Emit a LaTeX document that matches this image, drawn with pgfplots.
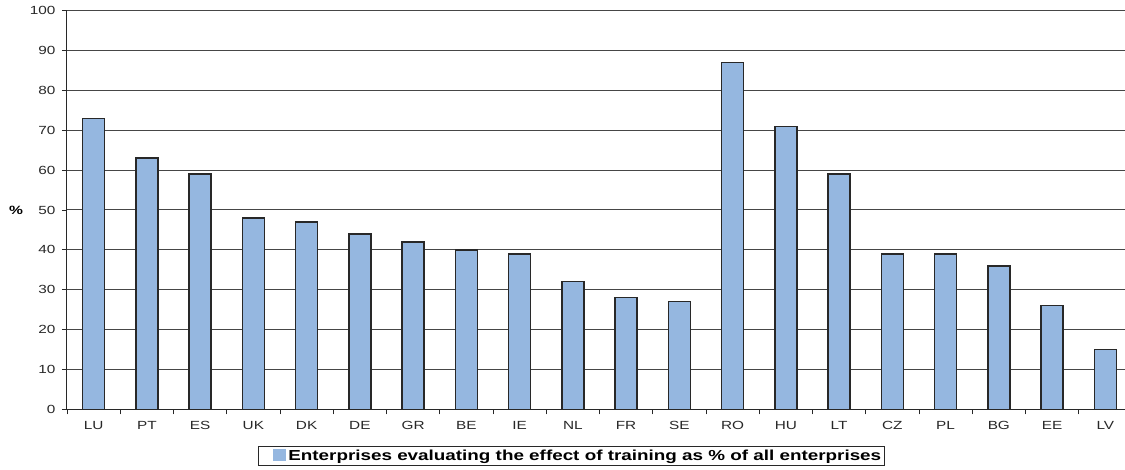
\documentclass[border=0pt]{standalone}
\usepackage{pgfplots}
\pgfplotsset{compat=1.18}
\usepackage{fontspec}
\setmainfont[FakeStretch=1.3]{Liberation Sans}
\definecolor{barblue}{RGB}{149,183,224}
\definecolor{edge}{RGB}{40,40,40}
\definecolor{gridc}{RGB}{70,70,70}
\begin{document}
\begin{tikzpicture}
\begin{axis}[name=ax,
  scale only axis, width=1065pt, height=399pt,
  xmin=-0.5, xmax=19.5, ymin=0, ymax=100,
  axis x line*=bottom, axis y line*=left,
  axis line style={draw=edge, line width=1pt, -},
  ytick={0,10,...,100},
  ymajorgrids, grid style={draw=gridc, line width=1pt},
  xtick={-0.5,0.5,...,18.5},
  xticklabels={LU,PT,ES,UK,DK,DE,GR,BE,IE,NL,FR,SE,RO,HU,LT,CZ,PL,BG,EE,LV},
  x tick label style={xshift=26.6pt, yshift=-3pt},
  y tick label style={xshift=-3pt},
  tick align=outside, major tick length=5pt,
  tick style={draw=edge, line width=0.8pt},
  ticklabel style={font=\fontsize{11.8}{14}\selectfont, text=edge},
  /pgf/number format/assume math mode=true,
  ylabel={\%},
  ylabel style={rotate=-90, at={(axis description cs:0,0.5)}, anchor=center, xshift=-51pt, font=\bfseries\fontsize{12}{14}\selectfont},
  ybar, bar width=22pt,
  legend style={at={(axis description cs:0.179,-0.092)}, anchor=north west,
    draw=edge, line width=0.8pt, inner xsep=1pt, inner ysep=1.5pt,
    font=\bfseries\fontsize{14.5}{16}\selectfont},
  legend image code/.code={\path (0pt,0pt); \fill[barblue] (14pt,-4pt) rectangle (26pt,6pt);},
]
\addplot[fill=barblue, draw=edge, line width=1.3pt] coordinates {
 (0,73) (1,63) (2,59) (3,48) (4,47) (5,44) (6,42) (7,40) (8,39) (9,32)
 (10,28) (11,27) (12,87) (13,71) (14,59) (15,39) (16,39) (17,36) (18,26) (19,15)};
\addlegendentry{Enterprises evaluating the effect of training as \% of all enterprises}
\end{axis}
\pgfresetboundingbox
\path (ax.south west) ++(-67pt,-60.5pt) rectangle ++(1125pt,470pt);
\end{tikzpicture}
\end{document}
